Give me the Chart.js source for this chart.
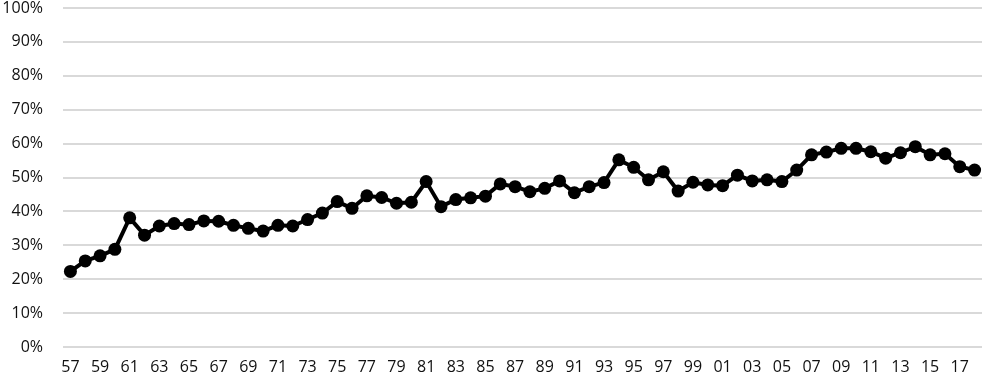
<!DOCTYPE html>
<html>
<head>
<meta charset="utf-8">
<script src="https://cdn.jsdelivr.net/npm/chart.js@4/dist/chart.umd.min.js"></script>
<style>
  html, body { margin: 0; padding: 0; background: #fff; }
</style>
</head>
<body>
<canvas id="chart" width="982" height="380"></canvas>
<script>
// years 1957 - 2018, shown as two-digit labels
var years = ['57','58','59','60','61','62','63','64','65','66','67','68','69','70','71','72','73','74','75','76',
             '77','78','79','80','81','82','83','84','85','86','87','88','89','90','91','92','93','94','95','96',
             '97','98','99','00','01','02','03','04','05','06','07','08','09','10','11','12','13','14','15','16',
             '17','18'];

var shares = [22.3, 25.4, 26.9, 28.8, 38.1, 33.0, 35.7, 36.4, 36.1, 37.2,
              37.1, 35.9, 35.0, 34.2, 35.9, 35.7, 37.6, 39.5, 42.9, 40.9,
              44.6, 44.1, 42.4, 42.7, 48.8, 41.4, 43.5, 44.0, 44.5, 48.1,
              47.3, 45.8, 46.8, 49.0, 45.5, 47.3, 48.5, 55.2, 53.0, 49.3,
              51.7, 46.0, 48.6, 47.8, 47.6, 50.7, 49.0, 49.3, 48.8, 52.2,
              56.7, 57.5, 58.6, 58.6, 57.6, 55.7, 57.3, 59.1, 56.7, 57.0,
              53.2, 52.2];

var ctx = document.getElementById('chart').getContext('2d');

var chart = new Chart(ctx, {
    type: 'line',
    data: {
        labels: years,
        datasets: [{
            data: shares,
            borderColor: '#000',
            backgroundColor: '#000',
            borderWidth: 4,
            pointRadius: 6.5,
            pointBackgroundColor: '#000',
            pointBorderWidth: 0,
            tension: 0
        }]
    },
    options: {
        responsive: false,
        animation: false,
        layout: { autoPadding: false, padding: { top: 8, right: 0, left: 0, bottom: 0 } },
        plugins: {
            legend: { display: false },
            tooltip: { enabled: false }
        },
        scales: {
            x: {
                offset: true,
                grid: { display: false, drawTicks: false },
                border: { display: false },
                afterFit: function (scale) {
                    scale.height = 33;
                    scale.paddingLeft = 0;
                    scale.paddingRight = 0;
                },
                ticks: {
                    autoSkip: false,
                    maxRotation: 0,
                    padding: 11,
                    color: '#111',
                    font: { family: 'Open Sans', size: 16 },
                    callback: function (val, i) { return i % 2 === 0 ? this.getLabelForValue(val) : ''; }
                }
            },
            y: {
                min: 0,
                max: 100,
                grid: { color: '#d9d9d9', lineWidth: 2, drawTicks: false },
                border: { display: false },
                afterFit: function (scale) {
                    scale.width = 63;
                    scale.paddingTop = 0;
                    scale.paddingBottom = 0;
                },
                ticks: {
                    stepSize: 10,
                    padding: 20,
                    color: '#111',
                    font: { family: 'Open Sans', size: 16 },
                    callback: function (v) { return v + '%'; }
                }
            }
        }
    }
});
</script>
</body>
</html>
